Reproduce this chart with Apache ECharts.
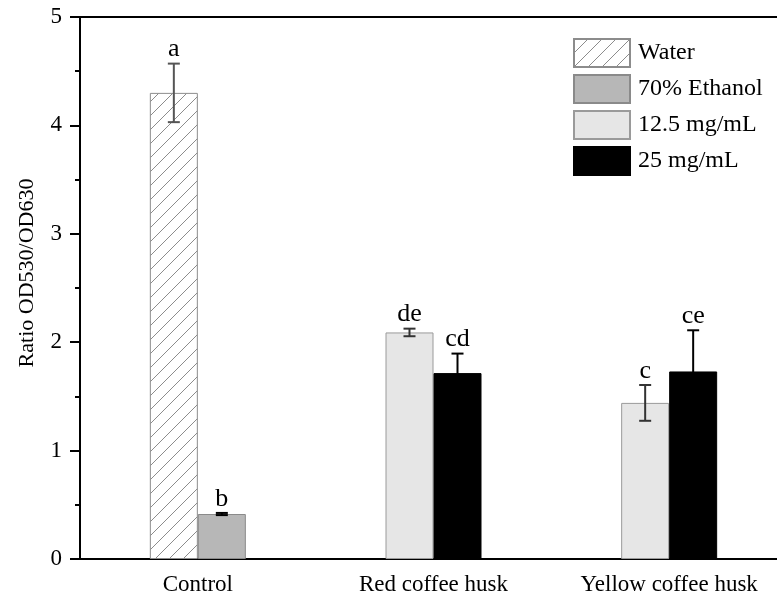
<!DOCTYPE html>
<html>
<head>
<meta charset="utf-8">
<script src="https://cdn.jsdelivr.net/npm/echarts@6/dist/echarts.min.js"></script>
<style>
html, body { margin: 0; padding: 0; background: #fff; overflow: hidden; }
#main { width: 787px; height: 601px; }
</style>
</head>
<body>
<div id="main"></div>
<script>
var categories = ['Control', 'Red coffee husk', 'Yellow coffee husk'];
var seriesNames = ['Water', '70% Ethanol', '12.5 mg/mL', '25 mg/mL'];

// bar heights (mean) per category, '-' = no bar
var waterVals = [4.30, '-', '-'];
var ethanolVals = [0.415, '-', '-'];
var lowDoseVals = ['-', 2.09, 1.44];
var highDoseVals = ['-', 1.715, 1.73];

// error (+/-)
var waterErr = [0.27, 0, 0];
var ethanolErr = [0.01, 0, 0];
var lowDoseErr = [0, 0.035, 0.165];
var highDoseErr = [0, 0.18, 0.38];

// significance letters
var waterLetters = ['a', '', ''];
var ethanolLetters = ['b', '', ''];
var lowDoseLetters = ['', 'de', 'c'];
var highDoseLetters = ['', 'cd', 'ce'];

var FONT = '"Liberation Serif", "Times New Roman", serif';
var BAR_W = 48;

// hatch pattern for water
function hatch() {
	var c = document.createElement('canvas');
	c.width = 14; c.height = 14;
	var g = c.getContext('2d');
	g.fillStyle = '#fff';
	g.fillRect(0, 0, 14, 14);
	g.strokeStyle = '#8c8c8c';
	g.lineWidth = 1;
	g.beginPath();
	g.moveTo(0, 14); g.lineTo(14, 0);
	g.moveTo(-7, 7); g.lineTo(7, -7);
	g.moveTo(7, 21); g.lineTo(21, 7);
	g.stroke();
	return c;
}

// rows for the error bars: [cat, mean, err, side, letter, color]
var errRows = [];
function addErr(vals, errs, letters, side, color) {
	for (var i = 0; i < vals.length; i++) {
		if (vals[i] === '-') continue;
		errRows.push([i, vals[i], errs[i], side, letters[i], color]);
	}
}
addErr(waterVals, waterErr, waterLetters, -1, '#555');
addErr(ethanolVals, ethanolErr, ethanolLetters, 1, '#000');
addErr(lowDoseVals, lowDoseErr, lowDoseLetters, -1, '#333');
addErr(highDoseVals, highDoseErr, highDoseLetters, 1, '#000');

function renderErr(params, api) {
	var row = errRows[params.dataIndex];
	var c = api.coord([row[0], row[1]]);
	var hi = api.coord([row[0], row[1] + row[2]]);
	var lo = api.coord([row[0], row[1] - row[2]]);
	var x = c[0] + row[3] * BAR_W / 2;
	var st = { stroke: row[5], lineWidth: 2 };
	return {
		type: 'group',
		children: [
			{ type: 'line', shape: { x1: x, y1: lo[1], x2: x, y2: hi[1] }, style: st },
			{ type: 'line', shape: { x1: x - 6, y1: hi[1], x2: x + 6, y2: hi[1] }, style: st },
			{ type: 'line', shape: { x1: x - 6, y1: lo[1], x2: x + 6, y2: lo[1] }, style: st },
			{ type: 'text', x: x, y: hi[1] - 1, style: {
				text: row[4], fill: '#000', font: '26px ' + FONT,
				align: 'center', verticalAlign: 'bottom'
			} }
		]
	};
}

var chart = echarts.init(document.getElementById('main'));
chart.setOption({
	backgroundColor: '#fff',
	animation: false,
	textStyle: { fontFamily: FONT },
	grid: {
		left: 80, right: 0, top: 17, bottom: 42,
		show: true, borderColor: '#000', borderWidth: 2
	},
	legend: {
		data: seriesNames,
		orient: 'vertical',
		icon: 'rect',
		left: 568, top: 33,
		itemWidth: 56, itemHeight: 28, itemGap: 6,
		textStyle: { fontSize: 24, color: '#000', fontFamily: FONT, padding: [0, 0, 0, 3] }
	},
	xAxis: {
		type: 'category',
		data: categories,
		axisLine: { lineStyle: { color: '#000', width: 2 } },
		axisTick: { alignWithLabel: true, length: 9, lineStyle: { color: '#000', width: 2 } },
		axisLabel: { color: '#000', fontSize: 23, fontFamily: FONT, margin: 14 },
		splitLine: { show: false }
	},
	yAxis: {
		type: 'value',
		min: 0, max: 5, interval: 1,
		name: 'Ratio OD530/OD630',
		nameLocation: 'middle',
		nameGap: 42,
		nameTextStyle: { color: '#000', fontSize: 22, fontFamily: FONT, padding: [0, 0, 0, 30] },
		axisLine: { show: true, lineStyle: { color: '#000', width: 2 } },
		axisTick: { show: true, length: 10, lineStyle: { color: '#000', width: 2 } },
		minorTick: { show: true, splitNumber: 2, length: 5, lineStyle: { color: '#000', width: 2 } },
		axisLabel: { color: '#000', fontSize: 23, fontFamily: FONT, margin: 18 },
		splitLine: { show: false }
	},
	series: [
		{
			name: 'Water', type: 'bar', stack: 'L', data: waterVals,
			barWidth: BAR_W, barGap: '0%',
			itemStyle: { color: { image: hatch(), repeat: 'repeat' }, borderColor: '#8c8c8c', borderWidth: 1 }
		},
		{
			name: '70% Ethanol', type: 'bar', stack: 'R', data: ethanolVals,
			barWidth: BAR_W, barGap: '0%',
			itemStyle: { color: '#b7b7b7', borderColor: '#8a8a8a', borderWidth: 1 }
		},
		{
			name: '12.5 mg/mL', type: 'bar', stack: 'L', data: lowDoseVals,
			barWidth: BAR_W, barGap: '0%',
			itemStyle: { color: '#e6e6e6', borderColor: '#9a9a9a', borderWidth: 1 }
		},
		{
			name: '25 mg/mL', type: 'bar', stack: 'R', data: highDoseVals,
			barWidth: BAR_W, barGap: '0%',
			itemStyle: { color: '#000', borderColor: '#000', borderWidth: 1 }
		},
		{
			type: 'custom', name: 'err', data: errRows.map(function (r) { return [r[0], r[1]]; }),
			renderItem: renderErr, clip: false, z: 5, silent: true
		}
	]
});
</script>
</body>
</html>
